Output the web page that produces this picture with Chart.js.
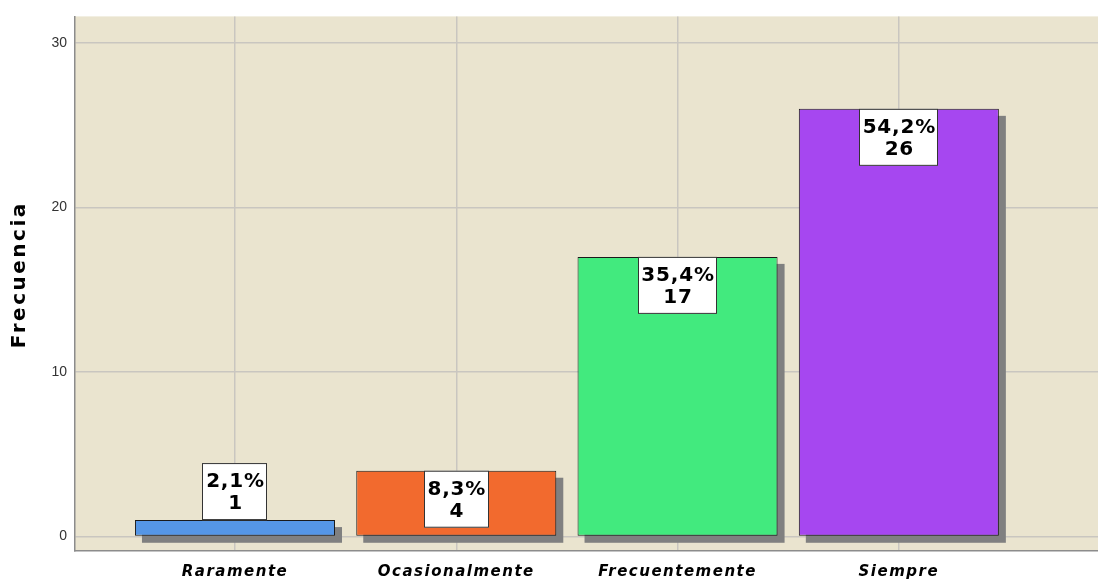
<!DOCTYPE html>
<html lang="es">
  <head>
    <meta charset="UTF-8" />
    <meta name="viewport" content="width=device-width, initial-scale=1.0" />
    <script src="https://cdn.jsdelivr.net/npm/chart.js@4.4.1/dist/chart.umd.min.js"></script>
    <title>Frecuencia</title>
    <style>
      html, body { margin: 0; padding: 0; background: #fff; }
      #wrap { width: 1098px; height: 582px; }
    </style>
  </head>
  <body>
    <div id="wrap"><canvas id="chart"></canvas></div>
    <script>
      // data
      const categorias = ["Raramente", "Ocasionalmente", "Frecuentemente", "Siempre"];
      const frecuencias = [1, 4, 17, 26];
      const porcentajes = ["2,1%", "8,3%", "35,4%", "54,2%"];
      const colores = ["#5596E6", "#F26A2E", "#42EA7E", "#A647F0"];
      const yTicks = [0, 10, 20, 30];
      const yTitulo = "Frecuencia";

      const fuente = "'DejaVu Sans', Verdana, sans-serif";

      // beige plot area
      const fondo = {
        id: "fondo",
        beforeDraw(chart) {
          const { ctx, chartArea: a } = chart;
          ctx.letterSpacing = "0px";
          ctx.save();
          ctx.fillStyle = "#EAE4CF";
          ctx.fillRect(a.left, a.top, a.right - a.left, a.bottom - a.top);
          ctx.restore();
        },
      };

      // grey drop shadow behind each bar
      const sombra = {
        id: "sombra",
        beforeDatasetsDraw(chart) {
          const ctx = chart.ctx;
          ctx.save();
          ctx.fillStyle = "#808080";
          chart.getDatasetMeta(0).data.forEach((bar) => {
            const w = bar.width;
            ctx.fillRect(bar.x - w / 2 + 7, bar.y + 7, w, bar.base - bar.y);
          });
          ctx.restore();
        },
      };

      // white boxes with percent and count
      const etiquetas = {
        id: "etiquetas",
        afterDatasetsDraw(chart) {
          const ctx = chart.ctx;
          ctx.save();
          ctx.font = "bold 20px " + fuente;
          ctx.letterSpacing = "0.8px";
          ctx.textAlign = "center";
          ctx.textBaseline = "middle";
          chart.getDatasetMeta(0).data.forEach((bar, i) => {
            const t1 = porcentajes[i];
            const t2 = String(frecuencias[i]);
            const tw = Math.max(ctx.measureText(t1).width, ctx.measureText(t2).width);
            const bw = Math.round(tw + 6);
            const bh = 57;
            const alto = bar.base - bar.y;
            const top = alto >= bh ? bar.y : bar.y - bh;
            const left = Math.round(bar.x - bw / 2);
            ctx.fillStyle = "#fff";
            ctx.fillRect(left, top, bw, bh);
            ctx.strokeStyle = "#333";
            ctx.lineWidth = 1;
            ctx.strokeRect(left + 0.5, top + 0.5, bw - 1, bh - 1);
            ctx.fillStyle = "#000";
            ctx.fillText(t1, bar.x + 0.5, top + 19);
            ctx.fillText(t2, bar.x + 0.5, top + 41);
          });
          ctx.restore();
          // x labels are drawn after the datasets, with a little spacing
          ctx.letterSpacing = "1.5px";
        },
        afterDraw(chart) {
          const ctx = chart.ctx;
          ctx.letterSpacing = "0px";
          // y axis title
          ctx.save();
          ctx.translate(20, (chart.chartArea.top + chart.chartArea.bottom) / 2 - 8);
          ctx.rotate(-Math.PI / 2);
          ctx.font = "bold 20px " + fuente;
          ctx.letterSpacing = "2.5px";
          ctx.fillStyle = "#000";
          ctx.textAlign = "center";
          ctx.textBaseline = "middle";
          ctx.fillText(yTitulo, 1, 0);
          ctx.restore();
        },
      };

      const ctx = document.getElementById("chart").getContext("2d");
      const myChart = new Chart(ctx, {
        type: "bar",
        data: {
          datasets: [
            {
              label: yTitulo,
              data: frecuencias.map((v, i) => ({ x: i, y: v })),
              backgroundColor: colores,
              borderColor: "#1A1A1A",
              borderWidth: 1,
              borderSkipped: false,
              barPercentage: 0.904,
              categoryPercentage: 1,
            },
          ],
        },
        options: {
          responsive: true,
          maintainAspectRatio: false,
          animation: false,
          layout: { padding: { top: 15, right: 0, left: 0, bottom: 0 } },
          plugins: {
            legend: { display: false },
            tooltip: { enabled: false },
          },
          scales: {
            x: {
              type: "linear",
              offset: false,
              min: -0.723,
              max: 3.9,
              afterBuildTicks: (scale) => {
                scale.ticks = categorias.map((c, i) => ({ value: i }));
              },
              afterFit: (scale) => {
                scale.height = 31;
              },
              grid: { color: "#C9C6C0", lineWidth: 1.5, drawTicks: false, offset: false },
              border: { color: "#8C8C8C", width: 1.5 },
              ticks: {
                z: 1,
                padding: 12,
                color: "#000",
                font: { family: fuente, size: 15, weight: "bold", style: "italic" },
                callback: (v) => categorias[v],
              },
            },
            y: {
              min: -0.88,
              max: 31.62,
              afterBuildTicks: (scale) => {
                scale.ticks = yTicks.map((v) => ({ value: v }));
              },
              afterFit: (scale) => {
                scale.width = 75;
              },
              grid: { color: "#C9C6C0", lineWidth: 1.5, drawTicks: false },
              border: { color: "#8C8C8C", width: 1.5 },
              ticks: {
                padding: 8,
                color: "#333",
                font: { family: "'Liberation Sans', Arial, sans-serif", size: 14 },
              },
            },
          },
        },
        plugins: [fondo, sombra, etiquetas],
      });
    </script>
  </body>
</html>
